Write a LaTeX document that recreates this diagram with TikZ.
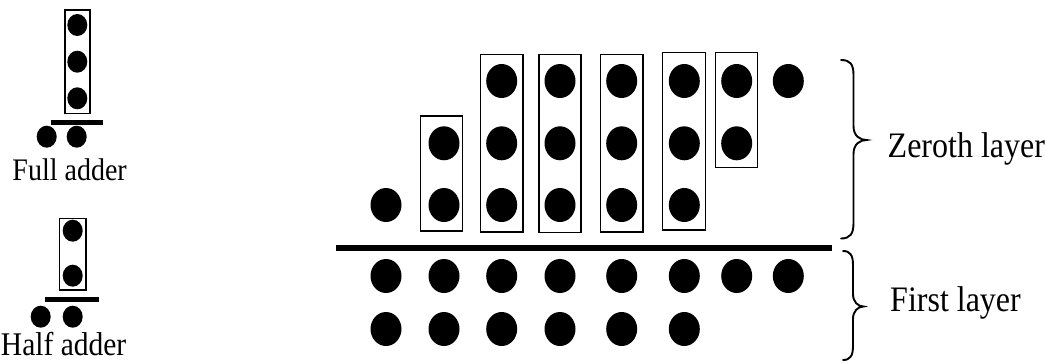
\documentclass[tikz,border=0pt]{standalone}
\usepackage{graphicx}
\usepackage{fontspec}
\setmainfont{Liberation Serif}
\usetikzlibrary{shapes.geometric}
\newcommand{\tallt}[1]{\scalebox{1}[1.12]{#1}}
\begin{document}
\begin{tikzpicture}[x=1pt,y=-1pt,
  bigdot/.style={ellipse,fill=black,inner sep=0pt,minimum width=31pt,minimum height=34pt},
  smalldot/.style={ellipse,fill=black,inner sep=0pt,minimum width=20pt,minimum height=22pt},
  grp/.style={draw,line width=1.1pt},
  bar/.style={line width=5pt},
  brc/.style={line width=1.9pt,line cap=round},
  lbl/.style={inner sep=0pt}]
\useasboundingbox (0,0) rectangle (1045,362);
% ---------- Full adder icon ----------
\node[smalldot] (fa1) at (77.3,25) {};
\node[smalldot] (fa2) at (77.3,61.7) {};
\node[smalldot] (fa3) at (77.3,98.3) {};
\draw[grp] (65,10) rectangle (90,113.3);
\coordinate (fal) at (50.7,122.3);
\coordinate (far) at (102.7,122.3);
\draw[bar] (fal) -- (far);
\node[smalldot] (fas) at (46.7,136.7) {};
\node[smalldot] (fac) at (76.7,136.7) {};
\node[lbl,anchor=base east,font=\fontsize{28}{30}\selectfont] (falbl) at (127,180.7) {\tallt{Full adder}};
% ---------- Half adder icon ----------
\node[smalldot] (ha1) at (72.7,230.7) {};
\node[smalldot] (ha2) at (72.7,275.7) {};
\draw[grp] (59.3,218.3) rectangle (86,290);
\coordinate (hal) at (45,299.3);
\coordinate (har) at (99.3,299.3);
\draw[bar] (hal) -- (har);
\node[smalldot] (has) at (40.7,316.7) {};
\node[smalldot] (hac) at (72.7,316.7) {};
\node[lbl,anchor=base east,font=\fontsize{29.5}{32}\selectfont] (halbl) at (126.5,355.7) {\tallt{Half adder}};
% ---------- Zeroth layer ----------
\node[bigdot] (z1c) at (386,205) {};
\node[bigdot] (z2b) at (444,143.3) {};
\node[bigdot] (z2c) at (444,205) {};
\foreach \c/\x in {3/501.7,4/560,5/621.7,6/684.3}{
  \node[bigdot] (z\c a) at (\x,81) {};
  \node[bigdot] (z\c b) at (\x,143.3) {};
  \node[bigdot] (z\c c) at (\x,205) {};
}
\node[bigdot] (z7a) at (736.7,81) {};
\node[bigdot] (z7b) at (736.7,143.3) {};
\node[bigdot] (z8a) at (788.3,81) {};
% groups
\draw[grp] (420.7,116) rectangle (462.3,231);
\draw[grp] (480.7,54.7) rectangle (523,232);
\draw[grp] (539,54.7) rectangle (581,232.7);
\draw[grp] (600.7,54.7) rectangle (643,232);
\draw[grp] (662.7,52.7) rectangle (705.3,230);
\draw[grp] (715.3,52.7) rectangle (757.3,167.3);
% separator
\coordinate (sepl) at (336,247.8);
\coordinate (sepr) at (831.7,247.8);
\draw[line width=5.5pt] (sepl) -- (sepr);
% ---------- First layer ----------
\foreach \c/\x in {1/386,2/444,3/501.7,4/560,5/621.7,6/684.3,7/736.7,8/788.3}{
  \node[bigdot] (f\c a) at (\x,276) {};
}
\foreach \c/\x in {1/386,2/444,3/501.7,4/560,5/621.7,6/684.3}{
  \node[bigdot] (f\c b) at (\x,329) {};
}
% ---------- braces ----------
\draw[brc] (841,60) .. controls (850,60) and (853.5,64) .. (853.5,75)
  -- (853.5,126) .. controls (853.5,136) and (860,140) .. (866.5,140)
  .. controls (860,140) and (853.5,144) .. (853.5,154)
  -- (853.5,223) .. controls (853.5,234) and (850,238.5) .. (841,238.5);
\draw[brc] (843,251) .. controls (850,251) and (853,255) .. (853,265)
  -- (853,294) .. controls (853,302) and (858,306.5) .. (863.5,306.5)
  .. controls (858,306.5) and (853,311) .. (853,319)
  -- (853,346) .. controls (853,356) and (850,360) .. (843,360);
\node[lbl,anchor=base west,font=\fontsize{32}{36}\selectfont] (zl) at (887.5,157.5) {\tallt{Zeroth layer}};
\node[lbl,anchor=base west,font=\fontsize{32}{36}\selectfont] (fl) at (890,311.7) {\tallt{First layer}};
\end{tikzpicture}
\end{document}
